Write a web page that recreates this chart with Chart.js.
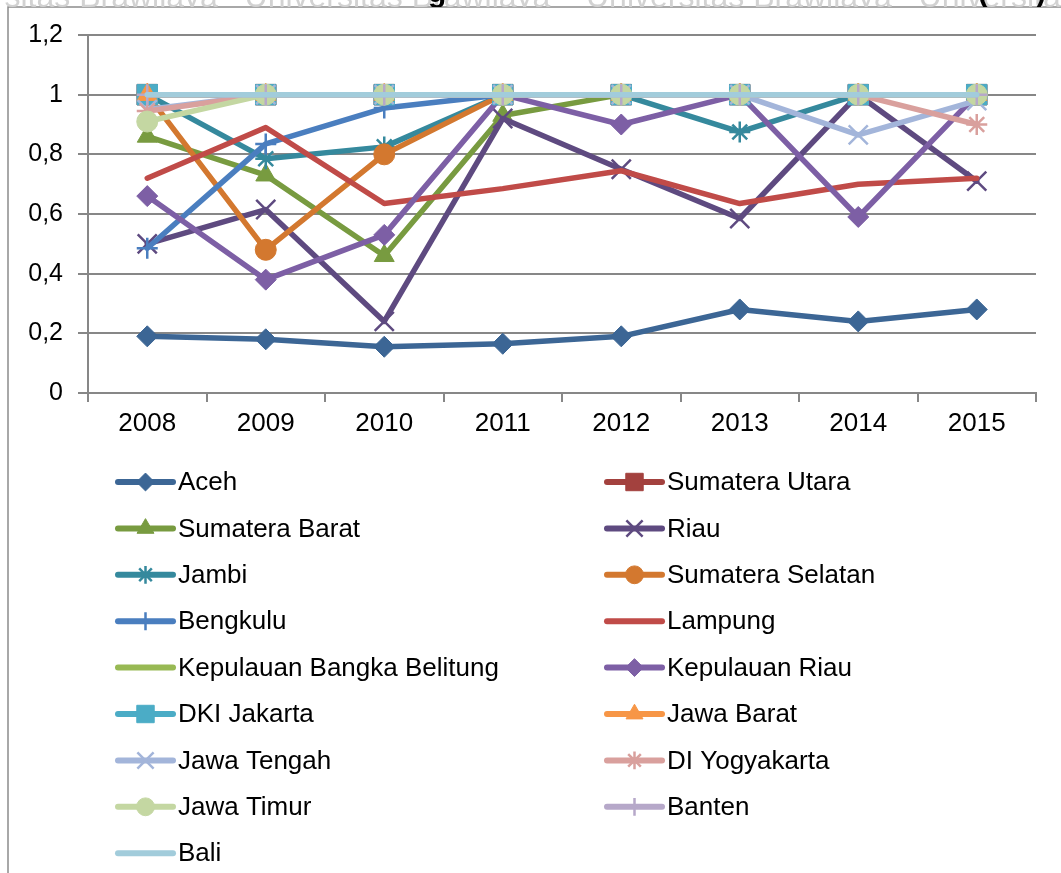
<!DOCTYPE html>
<html>
<head>
<meta charset="utf-8">
<script src="https://cdn.jsdelivr.net/npm/chart.js@4.4.1/dist/chart.umd.min.js"></script>
<style>
  html, body { margin: 0; padding: 0; background: #fff; overflow: hidden; }
  #wrap { position: relative; width: 1061px; height: 873px; }
  #chart { position: absolute; left: 0; top: 0; }
  #head { position: absolute; left: 0; top: 0; width: 1061px; height: 7px; overflow: hidden; z-index: 2; }
  #head span { position: absolute; white-space: nowrap; font-family: "Liberation Sans", Arial, sans-serif; line-height: 1; }
  .wm { top: -20px; font-size: 32px; color: #d2d2d2; }
  .tt { top: -23px; font-size: 30px; font-weight: bold; color: #000; }
</style>
</head>
<body>
<div id="wrap">
  <canvas id="chart" width="1061" height="873"></canvas>
  <div id="head">
    <span class="wm" style="left:-40px">versitas Brawijaya&nbsp;&nbsp;&nbsp;Universitas Brawijaya&nbsp;&nbsp;&nbsp;&nbsp;Universitas Brawijaya&nbsp;&nbsp;&nbsp;Universitas Brawijaya</span>
    <span class="tt" style="left:428px">g</span>
    <span class="tt" style="left:978px">(</span>
    <span class="tt" style="left:1036px">)</span>
  </div>
</div>
<script>
// years on the x axis
const years = ['2008', '2009', '2010', '2011', '2012', '2013', '2014', '2015'];
const yTickLabels = ['0', '0,2', '0,4', '0,6', '0,8', '1', '1,2'];

// efficiency score per province
const aceh            = [0.19, 0.18, 0.155, 0.165, 0.19, 0.28, 0.24, 0.28];
const sumateraUtara   = [1, 1, 1, 1, 1, 1, 1, 1];
const sumateraBarat   = [0.86, 0.73, 0.46, 0.93, 1, 1, 1, 1];
const riau            = [0.50, 0.615, 0.24, 0.92, 0.75, 0.585, 1, 0.71];
const jambi           = [1, 0.785, 0.825, 1, 1, 0.875, 1, 1];
const sumateraSelatan = [1, 0.48, 0.80, 1, 1, 1, 1, 1];
const bengkulu        = [0.485, 0.835, 0.955, 1, 1, 1, 1, 1];
const lampung         = [0.72, 0.89, 0.635, 0.685, 0.745, 0.635, 0.70, 0.72];
const bangkaBelitung  = [1, 1, 1, 1, 1, 1, 1, 1];
const kepulauanRiau   = [0.66, 0.38, 0.53, 1, 0.90, 1, 0.59, 1];
const dkiJakarta      = [1, 1, 1, 1, 1, 1, 1, 1];
const jawaBarat       = [1, 1, 1, 1, 1, 1, 1, 1];
const jawaTengah      = [0.95, 1, 1, 1, 1, 1, 0.865, 0.98];
const diYogyakarta    = [0.945, 1, 1, 1, 1, 1, 1, 0.90];
const jawaTimur       = [0.91, 1, 1, 1, 1, 1, 1, 1];
const banten          = [1, 1, 1, 1, 1, 1, 1, 1];
const bali            = [1, 1, 1, 1, 1, 1, 1, 1];

const seriesNames = ['Aceh', 'Sumatera Utara', 'Sumatera Barat', 'Riau', 'Jambi', 'Sumatera Selatan',
  'Bengkulu', 'Lampung', 'Kepulauan Bangka Belitung', 'Kepulauan Riau', 'DKI Jakarta', 'Jawa Barat',
  'Jawa Tengah', 'DI Yogyakarta', 'Jawa Timur', 'Banten', 'Bali'];
const seriesValues = [aceh, sumateraUtara, sumateraBarat, riau, jambi, sumateraSelatan,
  bengkulu, lampung, bangkaBelitung, kepulauanRiau, dkiJakarta, jawaBarat,
  jawaTengah, diYogyakarta, jawaTimur, banten, bali];

// styling
const seriesColors = ['#3C6695', '#A3413E', '#789B40', '#5E4A80', '#35899D', '#D3782F',
  '#4A7EBF', '#C04B48', '#98B954', '#7D5FA5', '#4BACC6', '#F79646',
  '#A3B5DA', '#D9A09D', '#C4D7A2', '#B6A8C9', '#A2CCDB'];
const seriesMarkers = ['rectRot', 'rect', 'triangle', 'crossRot', 'star', 'circle',
  'cross', false, false, 'rectRot', 'rect', 'triangle',
  'crossRot', 'star', 'circle', 'cross', false];
const markerRadius = { rectRot: 10.5, rect: 14.5, triangle: 11.5, crossRot: 13.5, star: 10.5, circle: 10.5, cross: 10.5 };
const strokeOnly = ['crossRot', 'star', 'cross'];

const FONT = '"Liberation Sans", Arial, sans-serif';
const GRID = '#878787';

const datasets = seriesNames.map((name, i) => {
  const m = seriesMarkers[i];
  return {
    label: name,
    data: seriesValues[i],
    borderColor: seriesColors[i],
    backgroundColor: seriesColors[i],
    borderWidth: 5.5,
    borderCapStyle: 'round',
    borderJoinStyle: 'round',
    tension: 0,
    pointStyle: m || 'circle',
    pointRadius: m ? markerRadius[m] : 0,
    pointHoverRadius: m ? markerRadius[m] : 0,
    pointBackgroundColor: seriesColors[i],
    pointBorderColor: seriesColors[i],
    pointBorderWidth: m && strokeOnly.includes(m) ? 2.5 : 1,
    order: seriesNames.length - i
  };
});

// white page with the frame lines
const framePlugin = {
  id: 'frame',
  beforeDraw(chart) {
    const ctx = chart.ctx;
    ctx.save();
    ctx.fillStyle = '#fff';
    ctx.fillRect(0, 0, chart.width, chart.height);
    ctx.strokeStyle = '#8c8c8c';
    ctx.lineWidth = 1.5;
    ctx.beginPath();
    ctx.moveTo(8, chart.height);
    ctx.lineTo(8, 7);
    ctx.lineTo(chart.width, 7);
    ctx.stroke();
    ctx.restore();
  }
};

// two column legend under the plot
const legendPlugin = {
  id: 'twoColLegend',
  afterDraw(chart) {
    const ctx = chart.ctx;
    const cols = [118, 607];
    const top = 482, rowH = 46.4, lineLen = 55;
    ctx.save();
    chart.data.datasets.forEach((ds, i) => {
      const x = cols[i % 2];
      const y = top + Math.floor(i / 2) * rowH;
      ctx.strokeStyle = ds.borderColor;
      ctx.lineWidth = 6;
      ctx.lineCap = 'round';
      ctx.beginPath();
      ctx.moveTo(x, y);
      ctx.lineTo(x + lineLen, y);
      ctx.stroke();
      if (ds.pointRadius > 0) {
        ctx.fillStyle = ds.pointBackgroundColor;
        ctx.strokeStyle = ds.pointBorderColor;
        ctx.lineWidth = ds.pointBorderWidth;
        ctx.lineCap = 'butt';
        Chart.helpers.drawPoint(ctx, {
          pointStyle: ds.pointStyle,
          radius: ds.pointRadius * 0.85,
          rotation: 0,
          borderWidth: ds.pointBorderWidth
        }, x + lineLen / 2, y);
      }
      ctx.fillStyle = '#000';
      ctx.font = '26px ' + FONT;
      ctx.textBaseline = 'middle';
      ctx.textAlign = 'left';
      ctx.fillText(ds.label, x + lineLen + 5, y + 1);
    });
    ctx.restore();
  }
};

new Chart(document.getElementById('chart'), {
  type: 'line',
  data: { labels: years, datasets: datasets },
  plugins: [framePlugin, legendPlugin],
  options: {
    responsive: false,
    animation: false,
    events: [],
    layout: { padding: { left: 0, top: 35, right: 25, bottom: 0 } },
    plugins: {
      legend: { display: false },
      tooltip: { enabled: false }
    },
    scales: {
      x: {
        type: 'category',
        offset: true,
        grid: { offset: true, drawOnChartArea: false, drawTicks: true, tickLength: 9, color: GRID, lineWidth: 2 },
        border: { color: GRID, width: 2 },
        ticks: { color: '#000', font: { family: FONT, size: 26 }, padding: 6, maxRotation: 0, autoSkip: false },
        afterFit(scale) { scale.height = 480; }
      },
      y: {
        min: 0,
        max: 1.2,
        ticks: {
          stepSize: 0.2,
          color: '#000',
          font: { family: FONT, size: 25 },
          padding: 15,
          callback: (v, i) => yTickLabels[i]
        },
        grid: { color: GRID, lineWidth: 2, tickLength: 10 },
        border: { color: GRID, width: 2 },
        afterFit(scale) { scale.width = 88; }
      }
    }
  }
});
</script>
</body>
</html>
